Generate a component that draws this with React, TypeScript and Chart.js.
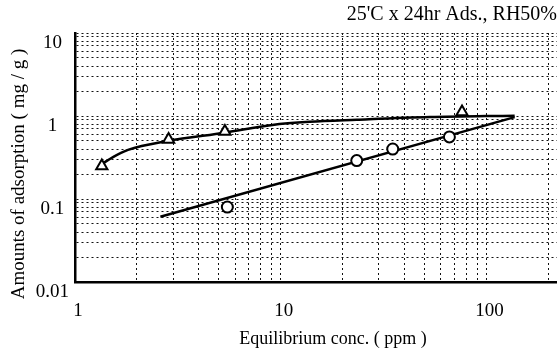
import React, { useEffect, useRef } from 'react';
import { Chart, registerables } from 'chart.js';

Chart.register(...registerables);

const triX = [1.35, 2.85, 5.35, 76];
const triY = [0.25, 0.52, 0.65, 1.12];
const cirX = [5.5, 23.4, 35, 66];
const cirY = [0.08, 0.29, 0.4, 0.56];

// Fitted curves
const triFitX = [1.37, 1.53, 1.81, 2.83, 5.35, 9.1, 13.8, 23.4, 52.9, 137];
const triFitY = [0.27, 0.32, 0.39, 0.5, 0.63, 0.78, 0.85, 0.9, 0.97, 1.01];
const cirFitX = [2.6, 137];
const cirFitY = [0.061, 0.97];

// Axes
const xTicks = [1, 2, 3, 4, 5, 6, 7, 8, 9, 10, 20, 30, 40, 50, 60, 70, 80, 90, 100, 200];
const yTicks = [
  0.01, 0.02, 0.03, 0.04, 0.05, 0.06, 0.07, 0.08, 0.09,
  0.1, 0.2, 0.3, 0.4, 0.5, 0.6, 0.7, 0.8, 0.9,
  1, 2, 3, 4, 5, 6, 7, 8, 9, 10,
];
const xTickLabels = ['1', '10', '100'];
const yTickLabels = ['0.01', '0.1', '1', '10'];

const titleText = "25'C x 24hr Ads., RH50%";
const xTitle = 'Equilibrium conc. ( ppm )';
const yTitle = 'Amounts of adsorption ( mg / g )';

const zip = (xs: number[], ys: number[]) => xs.map((x, i) => ({ x, y: ys[i] }));

const SERIF = '"Liberation Serif", "DejaVu Serif", serif';

// Axis titles placed where the reference has them (slightly off-centre)
const axisTitlePlugin = {
  id: 'axisTitles',
  afterDraw(chart: any) {
    const { ctx } = chart;
    ctx.save();
    ctx.fillStyle = '#000';
    ctx.textAlign = 'center';
    ctx.textBaseline = 'middle';
    ctx.font = `18px ${SERIF}`;
    ctx.fillText(xTitle, 333, 339);
    ctx.translate(19, 174);
    ctx.rotate(-Math.PI / 2);
    ctx.font = `19px ${SERIF}`;
    ctx.fillText(yTitle, 0, 0);
    ctx.restore();
  },
};

export default function App() {
  const ref = useRef<HTMLCanvasElement | null>(null);

  useEffect(() => {
    if (!ref.current) return;
    const chart = new Chart(ref.current, {
      type: 'scatter',
      data: {
        datasets: [
          {
            label: 'triangle',
            data: zip(triX, triY),
            pointStyle: 'triangle',
            pointRadius: 6.5,
            pointBorderWidth: 2,
            pointBorderColor: '#000',
            pointBackgroundColor: '#fff',
            showLine: false,
            order: 0,
          },
          {
            label: 'circle',
            data: zip(cirX, cirY),
            pointStyle: 'circle',
            pointRadius: 5.5,
            pointBorderWidth: 2,
            pointBorderColor: '#000',
            pointBackgroundColor: '#fff',
            showLine: false,
            order: 0,
          },
          {
            label: 'triangle fit',
            data: zip(triFitX, triFitY),
            showLine: true,
            pointRadius: 0,
            borderColor: '#000',
            borderWidth: 2.5,
            cubicInterpolationMode: 'monotone',
            order: 1,
          },
          {
            label: 'circle fit',
            data: zip(cirFitX, cirFitY),
            showLine: true,
            pointRadius: 0,
            borderColor: '#000',
            borderWidth: 2.5,
            order: 1,
          },
        ],
      },
      options: {
        responsive: false,
        animation: false,
        layout: { padding: 0, autoPadding: false },
        plugins: {
          legend: { display: false },
          tooltip: { enabled: false },
          title: {
            display: true,
            text: titleText,
            align: 'end',
            color: '#000',
            font: { family: SERIF, size: 20, weight: 'normal' },
            padding: { top: 3, bottom: 6 },
          },
        },
        scales: {
          x: {
            type: 'logarithmic',
            min: 1,
            max: 220,
            afterBuildTicks: (scale: any) => {
              scale.ticks = xTicks.map((v) => ({ value: v }));
            },
            afterFit: (scale: any) => {
              scale.height = 74;
              scale.paddingLeft = 0;
              scale.paddingRight = 0;
            },
            ticks: {
              autoSkip: false,
              maxRotation: 0,
              minRotation: 0,
              padding: 0,
              labelOffset: 3,
              color: '#000',
              font: { family: SERIF, size: 19 },
              callback: (v: any) => (xTickLabels.includes(String(v)) ? String(v) : ''),
            },
            grid: {
              color: '#111',
              lineWidth: 1,
              drawTicks: true,
              tickLength: 18,
              tickColor: 'rgba(0,0,0,0)',
            },
            border: { display: true, color: '#000', width: 2.5, dash: [2, 3] },
            title: { display: false, text: xTitle },
          },
          y: {
            type: 'logarithmic',
            min: 0.01,
            max: 10,
            afterBuildTicks: (scale: any) => {
              scale.ticks = yTicks.map((v) => ({ value: v }));
            },
            afterFit: (scale: any) => {
              scale.width = 75;
            },
            ticks: {
              autoSkip: false,
              padding: 6,
              crossAlign: 'center',
              labelOffset: 10,
              color: '#000',
              font: { family: SERIF, size: 19 },
              callback: (v: any) => (yTickLabels.includes(String(v)) ? String(v) : ''),
            },
            grid: {
              color: '#111',
              lineWidth: 1,
              drawTicks: false,
            },
            border: { display: true, color: '#000', width: 2.5, dash: [2, 3] },
            title: { display: false, text: yTitle },
          },
        },
      },
      plugins: [axisTitlePlugin],
    } as any);
    return () => chart.destroy();
  }, []);

  return (
    <div style={{ position: 'absolute', left: 0, top: 0, width: 557, height: 356, background: '#fff' }}>
      <canvas ref={ref} width={557} height={356} style={{ display: 'block' }} />
    </div>
  );
}
